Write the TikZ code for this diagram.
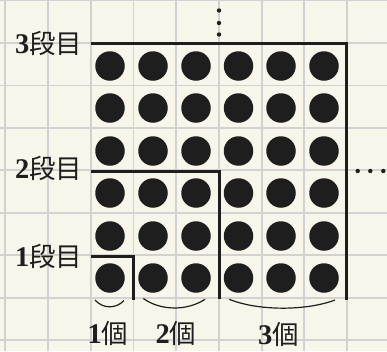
\documentclass[tikz,border=0pt]{standalone}
\usepackage{fontspec}
\setmainfont{Liberation Serif}
\newfontfamily\cjk{Noto Sans CJK JP}
\definecolor{bg}{HTML}{F8F6EB}
\definecolor{gridc}{HTML}{D2D2D2}
\definecolor{ink}{HTML}{1E1E1E}
\tikzset{
  gridline/.style={draw=gridc, line width=1.8pt},
  stair/.style={draw=ink, line width=2.9pt},
  ball/.style={circle, fill=ink, inner sep=0pt, minimum size=29.5pt},
  smalldot/.style={circle, fill=ink, inner sep=0pt, minimum size=4.4pt},
  brace/.style={draw=ink, line width=1.2pt},
  lab/.style={inner sep=0pt, text=ink, font=\fontsize{28.5}{28.5}\selectfont},
}
\newcommand{\lbl}[2]{{\bfseries #1}{\cjk\fontsize{26.5}{26.5}\selectfont #2}}
\begin{document}
\begin{tikzpicture}[x=1pt,y=-1pt]
\fill[bg] (0,0) rectangle (387,351);
\useasboundingbox (0,0) rectangle (387,351);
% grid
\foreach \gx in {5,48,90.7,133.4,176.1,218.9,261.6,304.3,347}
  \draw[gridline] (\gx,0) -- (\gx,351);
\foreach \gy in {0.5,43,85.4,127.9,170.3,212.7,255.1,297.6,340}
  \draw[gridline] (0,\gy) -- (387,\gy);
% balls
\foreach \cx [count=\i] in {110,153,196,238.5,281,324}
  \foreach \cy [count=\j] in {66,108,151,193,236,278}
    \node[ball] (b\i\j) at (\cx,\cy) {};
% stair lines
\coordinate (s3a) at (90.5,43.5);
\coordinate (s3b) at (346.8,43.5);
\coordinate (s3c) at (346.8,300);
\coordinate (s2a) at (90.5,171.5);
\coordinate (s2b) at (219.3,171.5);
\coordinate (s2c) at (219.3,298.5);
\coordinate (s1a) at (90.5,256.5);
\coordinate (s1b) at (133.3,256.5);
\coordinate (s1c) at (133.3,300);
\draw[stair] (s3a) -- (s3b) -- (s3c);
\draw[stair] (s2a) -- (s2b) -- (s2c);
\draw[stair] (s1a) -- (s1b) -- (s1c);
% labels
\node[lab, anchor=east] (l3) at (82.5,43.5) {\lbl{3}{段目}};
\node[lab, anchor=east] (l2) at (82.5,168) {\lbl{2}{段目}};
\node[lab, anchor=east] (l1) at (82.5,256) {\lbl{1}{段目}};
% vertical ellipsis
\node[smalldot] (v1) at (219,10.5) {};
\node[smalldot] (v2) at (219,23) {};
\node[smalldot] (v3) at (219,34.5) {};
% horizontal ellipsis
\node[smalldot] (h1) at (357.7,171) {};
\node[smalldot] (h2) at (370.3,171) {};
\node[smalldot] (h3) at (383.3,171) {};
% braces
\coordinate (c1a) at (95,300);
\coordinate (c1b) at (124,300.5);
\coordinate (c2a) at (143.3,298.5);
\coordinate (c2b) at (205,299.3);
\coordinate (c3a) at (229.3,299.3);
\coordinate (c3b) at (335,300);
\draw[brace] (c1a) .. controls (103,309) and (116,309) .. (c1b);
\draw[brace] (c2a) .. controls (161,311) and (187,311) .. (c2b);
\draw[brace] (c3a) .. controls (258,311) and (306,311) .. (c3b);
% counts
\node[lab] (n1) at (108,333.5) {\lbl{1}{個}};
\node[lab] (n2) at (176,333.5) {\lbl{2}{個}};
\node[lab] (n3) at (278.5,334.5) {\lbl{3}{個}};
\end{tikzpicture}
\end{document}
